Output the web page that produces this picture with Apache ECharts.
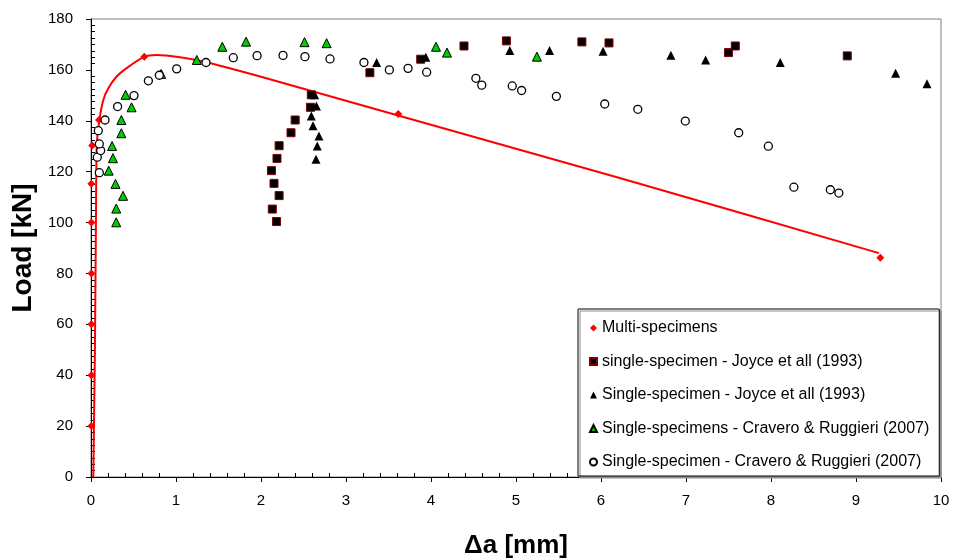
<!DOCTYPE html>
<html>
<head>
<meta charset="utf-8">
<script src="https://cdn.jsdelivr.net/npm/echarts@6/dist/echarts.min.js"></script>
<style>
	html, body { margin: 0; padding: 0; background: #fff; }
	#main { width: 953px; height: 559px; }
</style>
</head>
<body>
<div id="main"></div>
<script>
	// Multi-specimens (red diamonds)
	var multiX = [0.005, 0.005, 0.005, 0.005, 0.005, 0.004, 0.015, 0.094, 0.627, 3.615, 9.286];
	var multiY = [20, 40, 60, 80, 100, 115.3, 130.3, 140.3, 165.2, 142.7, 86.2];

	// fitted curve through the multi-specimen results
	var fitX = [0.027, 0.046, 0.059, 0.067, 0.098, 0.145, 0.204, 0.302, 0.42, 0.627, 0.773, 1.047, 1.32, 1.99, 3.28, 6.22, 9.27];
	var fitY = [0, 50, 105, 130, 140.2, 148.2, 152.8, 157.4, 160.7, 165.2, 165.9, 165, 163.3, 157.4, 145.2, 117.5, 88];

	// single-specimen - Joyce et all (1993), squares
	var sqX = [2.592, 2.582, 2.402, 2.353, 2.213, 2.188, 2.123, 2.153, 2.213, 2.133, 2.183, 3.281, 3.879, 4.388, 4.887, 5.775, 6.094, 7.5, 7.58, 8.897];
	var sqY = [150.2, 145.3, 140.3, 135.3, 130.2, 125.2, 120.4, 115.4, 110.6, 105.3, 100.4, 158.9, 164.2, 169.4, 171.4, 171, 170.6, 166.8, 169.4, 165.5];

	// Single-specimen - Joyce et all (1993), black triangles
	var triX = [2.632, 2.652, 2.592, 2.612, 2.682, 2.662, 2.647, 3.36, 3.939, 4.927, 5.395, 6.024, 6.822, 7.231, 8.109, 9.466, 9.835];
	var triY = [150.2, 145.8, 141.9, 138, 134, 130.1, 124.9, 162.9, 165, 167.6, 167.6, 167.3, 165.8, 163.9, 162.9, 158.7, 154.6];

	// Single-specimens - Cravero & Ruggieri (2007), green triangles
	var greenX = [0.297, 0.297, 0.377, 0.288, 0.208, 0.258, 0.248, 0.357, 0.357, 0.477, 0.407, 0.826, 1.245, 1.545, 1.824, 2.512, 2.772, 4.059, 4.188, 5.246];
	var greenY = [100.1, 105.5, 110.5, 115.2, 120.4, 125.3, 130.1, 135.1, 140.3, 145.3, 150.2, 158.4, 163.9, 169.1, 171.1, 170.9, 170.5, 169.1, 166.8, 165.2];

	// Single-specimen - Cravero & Ruggieri (2007), open circles
	var circX = [0.098, 0.074, 0.114, 0.098, 0.086, 0.165, 0.313, 0.506, 0.675, 0.804, 1.008, 1.353, 1.674, 1.954, 2.259, 2.517, 2.812, 3.211, 3.51, 3.73, 3.949, 4.528, 4.597, 4.956, 5.066, 5.475, 6.044, 6.433, 6.992, 7.62, 7.969, 8.269, 8.698, 8.798];
	var circY = [119.6, 125.7, 128.3, 130.9, 136.1, 140.3, 145.6, 149.9, 155.7, 157.9, 160.4, 162.9, 164.8, 165.6, 165.7, 165.2, 164.3, 162.9, 160, 160.6, 159.1, 156.7, 154, 153.7, 151.9, 149.6, 146.6, 144.5, 139.9, 135.3, 130, 113.9, 112.9, 111.6];

	var seriesNames = [
		'Multi-specimens',
		'single-specimen - Joyce et all (1993)',
		'Single-specimen - Joyce et all (1993)',
		'Single-specimens - Cravero & Ruggieri (2007)',
		'Single-specimen - Cravero & Ruggieri (2007)'
	];

	function pairs(xs, ys) {
		var out = [];
		for (var i = 0; i < xs.length; i++) out.push([xs[i], ys[i]]);
		return out;
	}

	var font = 'Liberation Sans, Arial, sans-serif';

	var myChart = echarts.init(document.getElementById('main'));
	myChart.setOption({
		backgroundColor: '#fff',
		animation: false,
		textStyle: { fontFamily: font, color: '#000' },
		grid: {
			left: 91, right: 12, top: 19, bottom: 82,
			outerBoundsMode: 'none',
			show: true, borderColor: '#808080', borderWidth: 1
		},
		legend: {
			orient: 'vertical',
			left: 578,
			top: 309,
			padding: [11, 10, 6, 11],
			itemGap: 17.5,
			itemWidth: 7,
			itemHeight: 7,
			backgroundColor: '#fff',
			borderColor: '#000',
			borderWidth: 1,
			shadowColor: '#909090',
			shadowOffsetX: 2,
			shadowOffsetY: 2,
			textStyle: { fontFamily: font, fontSize: 16, color: '#000' },
			data: [
				{ name: seriesNames[0], icon: 'diamond' },
				{ name: seriesNames[1], icon: 'rect' },
				{ name: seriesNames[2], icon: 'triangle' },
				{ name: seriesNames[3], icon: 'triangle' },
				{ name: seriesNames[4], icon: 'circle' }
			]
		},
		xAxis: {
			type: 'value',
			min: 0, max: 10, interval: 1,
			name: 'Δa [mm]',
			nameLocation: 'middle',
			nameGap: 56,
			nameTextStyle: { fontFamily: font, fontSize: 26, fontWeight: 'bold', color: '#000' },
			axisLine: { onZero: false, lineStyle: { color: '#000', width: 1 } },
			axisTick: { length: 5, lineStyle: { color: '#000' } },
			minorTick: { show: true, splitNumber: 5, length: -4, lineStyle: { color: '#000' } },
			axisLabel: { fontFamily: font, fontSize: 15, color: '#000', margin: 16 },
			splitLine: { show: false }
		},
		yAxis: {
			type: 'value',
			min: 0, max: 180, interval: 20,
			name: 'Load [kN]',
			nameLocation: 'middle',
			nameGap: 45,
			nameTextStyle: { fontFamily: font, fontSize: 28, fontWeight: 'bold', color: '#000' },
			axisLine: { onZero: false, lineStyle: { color: '#000', width: 1 } },
			axisTick: { length: 5, lineStyle: { color: '#000' } },
			minorTick: { show: true, splitNumber: 8, length: -4, lineStyle: { color: '#000' } },
			axisLabel: { fontFamily: font, fontSize: 15, color: '#000', margin: 18 },
			splitLine: { show: false }
		},
		series: [{
			name: 'fit',
			type: 'line',
			data: pairs(fitX, fitY),
			showSymbol: false,
			smooth: 0.2,
			lineStyle: { color: '#ff0000', width: 2 },
			z: 1,
			silent: true
		}, {
			name: seriesNames[0],
			type: 'scatter',
			symbol: 'diamond',
			symbolSize: 8,
			itemStyle: { color: '#ff0000', opacity: 1 },
			data: pairs(multiX, multiY),
			z: 2
		}, {
			name: seriesNames[1],
			type: 'scatter',
			symbol: 'rect',
			symbolSize: 8,
			itemStyle: { color: '#000', borderColor: '#800000', borderWidth: 1, opacity: 1 },
			data: pairs(sqX, sqY),
			z: 3
		}, {
			name: seriesNames[2],
			type: 'scatter',
			symbol: 'triangle',
			symbolSize: 9,
			itemStyle: { color: '#000', opacity: 1 },
			data: pairs(triX, triY),
			z: 4
		}, {
			name: seriesNames[3],
			type: 'scatter',
			symbol: 'triangle',
			symbolSize: 9,
			itemStyle: { color: '#00cc00', borderColor: '#000', borderWidth: 1, opacity: 1 },
			data: pairs(greenX, greenY),
			z: 5
		}, {
			name: seriesNames[4],
			type: 'scatter',
			symbol: 'circle',
			symbolSize: 8,
			itemStyle: { color: '#fff', borderColor: '#000', borderWidth: 1.3, opacity: 1 },
			data: pairs(circX, circY),
			z: 6
		}]
	});
</script>
</body>
</html>
